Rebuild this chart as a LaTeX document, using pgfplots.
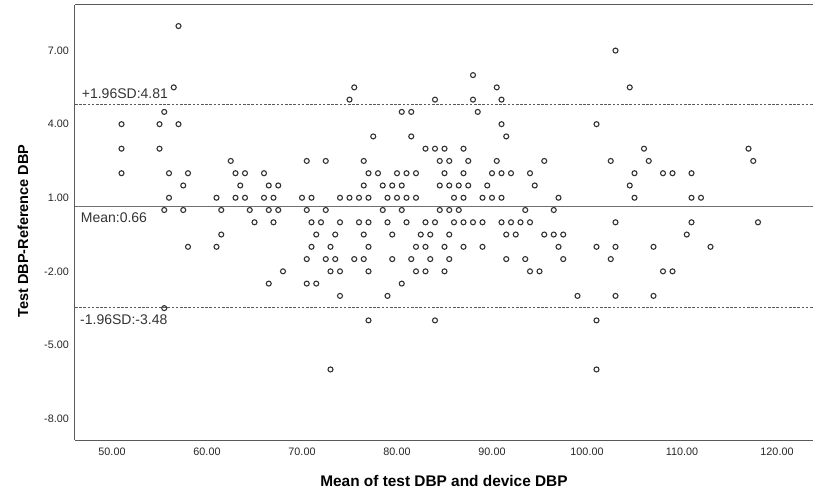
\documentclass[border=0pt]{standalone}
\usepackage{pgfplots}
\pgfplotsset{compat=1.18}
\usepackage{fontspec}
\setmainfont{Liberation Sans}
\usetikzlibrary{calc}
\definecolor{axgray}{HTML}{5A5A5A}
\definecolor{ptgray}{HTML}{333333}
\definecolor{refgray}{HTML}{707070}
\begin{document}
\begin{tikzpicture}
\begin{axis}[
  scale only axis, width=738bp, height=435bp,
  xmin=46.105, xmax=123.79, ymin=-8.876, ymax=8.858,
  axis x line*=box, axis y line*=left,
  axis line style={axgray, line width=1bp},
  xtick={50,60,70,80,90,100,110,120},
  xticklabels={50.00,60.00,70.00,80.00,90.00,100.00,110.00,120.00},
  ytick={-8,-5,-2,1,4,7},
  yticklabels={-8.00,-5.00,-2.00,1.00,4.00,7.00},
  major tick length=0pt,
  tick label style={font=\fontsize{10.8bp}{12bp}\selectfont, text=black!85},
  xticklabel style={anchor=north, inner sep=0pt, yshift=-7.5bp},
  yticklabel style={anchor=east, inner sep=0pt, xshift=-6bp},
  xlabel={Mean of test DBP and device DBP},
  ylabel={Test DBP-Reference DBP},
  every axis x label/.style={at={(axis description cs:0.5,-0.0936)}, anchor=center, font=\fontsize{15.4bp}{18bp}\selectfont\bfseries},
  every axis y label/.style={at={(axis description cs:-0.0705,0.4805)}, rotate=90, anchor=center, font=\fontsize{14.5bp}{17bp}\selectfont\bfseries},
]
\addplot[refgray, line width=1bp, forget plot] coordinates {(46.105,0.66) (123.79,0.66)};
\addplot[refgray!80!black, line width=0.9bp, dash pattern=on 2.6bp off 1.6bp, forget plot] coordinates {(46.105,4.81) (123.79,4.81)};
\addplot[refgray!80!black, line width=0.9bp, dash pattern=on 2.6bp off 1.6bp, forget plot] coordinates {(46.105,-3.48) (123.79,-3.48)};
\addplot[only marks, mark=o, mark size=2.5bp, mark options={ptgray, line width=1.1bp}] table {
x y
57 8
103 7
88 6
56.5 5.5
75.5 5.5
90.5 5.5
104.5 5.5
75 5
84 5
88 5
91 5
55.5 4.5
80.5 4.5
81.5 4.5
88.5 4.5
51 4
55 4
57 4
91 4
101 4
77.5 3.5
81.5 3.5
91.5 3.5
51 3
55 3
83 3
84 3
85 3
87 3
106 3
117 3
62.5 2.5
70.5 2.5
72.5 2.5
76.5 2.5
84.5 2.5
85.5 2.5
87.5 2.5
90.5 2.5
95.5 2.5
102.5 2.5
106.5 2.5
117.5 2.5
51 2
56 2
58 2
63 2
64 2
66 2
77 2
78 2
80 2
81 2
82 2
85 2
87 2
90 2
91 2
92 2
94 2
105 2
108 2
109 2
111 2
57.5 1.5
63.5 1.5
66.5 1.5
67.5 1.5
76.5 1.5
78.5 1.5
79.5 1.5
80.5 1.5
84.5 1.5
85.5 1.5
86.5 1.5
87.5 1.5
89.5 1.5
94.5 1.5
104.5 1.5
56 1
61 1
63 1
64 1
66 1
67 1
70 1
71 1
74 1
75 1
76 1
77 1
79 1
80 1
81 1
82 1
86 1
87 1
89 1
90 1
91 1
97 1
105 1
111 1
112 1
55.5 0.5
57.5 0.5
61.5 0.5
64.5 0.5
66.5 0.5
67.5 0.5
70.5 0.5
72.5 0.5
78.5 0.5
80.5 0.5
84.5 0.5
85.5 0.5
86.5 0.5
93.5 0.5
96.5 0.5
65 0
67 0
71 0
72 0
74 0
76 0
77 0
79 0
81 0
83 0
84 0
86 0
87 0
88 0
89 0
91 0
92 0
93 0
94 0
103 0
111 0
118 0
61.5 -0.5
71.5 -0.5
73.5 -0.5
76.5 -0.5
79.5 -0.5
82.5 -0.5
83.5 -0.5
85.5 -0.5
91.5 -0.5
92.5 -0.5
95.5 -0.5
96.5 -0.5
97.5 -0.5
110.5 -0.5
58 -1
61 -1
71 -1
73 -1
77 -1
82 -1
83 -1
85 -1
87 -1
89 -1
97 -1
101 -1
103 -1
107 -1
113 -1
70.5 -1.5
72.5 -1.5
73.5 -1.5
75.5 -1.5
76.5 -1.5
79.5 -1.5
81.5 -1.5
83.5 -1.5
85.5 -1.5
91.5 -1.5
93.5 -1.5
97.5 -1.5
102.5 -1.5
68 -2
73 -2
74 -2
77 -2
82 -2
83 -2
85 -2
94 -2
95 -2
108 -2
109 -2
66.5 -2.5
70.5 -2.5
71.5 -2.5
80.5 -2.5
74 -3
79 -3
99 -3
103 -3
107 -3
55.5 -3.5
77 -4
84 -4
101 -4
73 -6
101 -6
};
\node[anchor=base west, inner sep=0pt, yshift=6bp, font=\fontsize{14bp}{16bp}\selectfont, text=black!80] at (axis cs:46.81,4.81) {+1.96SD:4.81};
\node[anchor=north west, inner sep=0pt, yshift=-6bp, font=\fontsize{14bp}{16bp}\selectfont, text=black!80] at (axis cs:46.70,0.66) {Mean:0.66};
\node[anchor=north west, inner sep=0pt, yshift=-7bp, font=\fontsize{14bp}{16bp}\selectfont, text=black!80] at (axis cs:46.63,-3.48) {-1.96SD:-3.48};
\coordinate (bl) at (rel axis cs:0,0);
\coordinate (tr) at (rel axis cs:1,1);
\end{axis}
\pgfresetboundingbox
\path[use as bounding box] ($(bl)+(-75bp,-54bp)$) rectangle ($(tr)+(0bp,5bp)$);
\end{tikzpicture}
\end{document}
